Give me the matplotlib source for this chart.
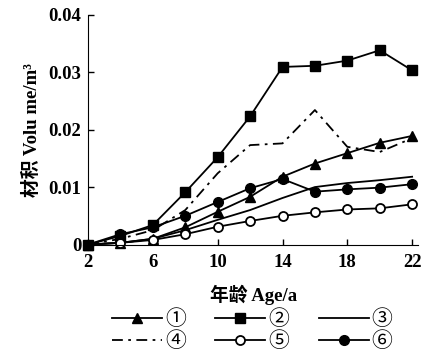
import matplotlib
matplotlib.use("Agg")
import matplotlib.pyplot as plt

plt.rcParams['font.family'] = ['Liberation Serif', 'Noto Sans CJK SC', 'DejaVu Sans']

ages = [2, 4, 6, 8, 10, 12, 14, 16, 18, 20, 22]
s1 = [0, 0.0003, 0.001, 0.003, 0.0057, 0.0083, 0.0118, 0.0141, 0.0159, 0.0177, 0.0189]
s2 = [0, 0.0015, 0.0034, 0.0091, 0.0152, 0.0223, 0.0309, 0.0311, 0.0320, 0.0338, 0.0303]
s3 = [0, 0.0003, 0.001, 0.0025, 0.0043, 0.006, 0.0081, 0.0100, 0.0107, 0.0112, 0.0118]
s4 = [0, 0.001, 0.0025, 0.006, 0.0124, 0.0173, 0.0176, 0.0234, 0.0170, 0.0161, 0.0185]
s5 = [0, 0.0003, 0.0008, 0.0018, 0.0031, 0.0041, 0.0050, 0.0056, 0.0061, 0.0063, 0.0070]
s6 = [0, 0.0018, 0.003, 0.005, 0.0074, 0.0098, 0.0114, 0.0092, 0.0096, 0.0099, 0.0105]
labels = ['①', '②', '③', '④', '⑤', '⑥']

fig = plt.figure(figsize=(4.36, 3.57), dpi=100)
ax = fig.add_axes([0.202, 0.315, 0.757, 0.644])

kw = dict(color='black', lw=1.3, clip_on=False)
l1, = ax.plot(ages, s1, marker='^', ms=7, label=labels[0], **kw)
l2, = ax.plot(ages, s2, marker='s', ms=7, label=labels[1], **kw)
l3, = ax.plot(ages, s3, label=labels[2], **kw)
l4, = ax.plot(ages, s4, ls=(0, (6, 3, 1.5, 3)), label=labels[3], **kw)
l5, = ax.plot(ages, s5, marker='o', ms=6.5, mfc='white', mew=1.3, label=labels[4], **kw)
l6, = ax.plot(ages, s6, marker='o', ms=7, label=labels[5], **kw)

ax.set_xlim(2, 22.37)
ax.set_ylim(0, 0.04)
ax.set_xticks([2, 6, 10, 14, 18, 22])
ax.set_yticks([0, 0.01, 0.02, 0.03, 0.04])
ax.set_yticklabels(['0', '0.01', '0.02', '0.03', '0.04'])
for t in ax.get_xticklabels() + ax.get_yticklabels():
    t.set_fontweight('bold')
ax.spines['top'].set_visible(False)
ax.spines['right'].set_visible(False)
ax.tick_params(direction='in', length=4, labelsize=13.5, width=1)
ax.tick_params(axis='x', pad=7)
ax.tick_params(axis='y', pad=5)
ax.set_xlabel('年龄 Age/a', fontsize=13.5, labelpad=10, fontweight='bold')
ax.set_ylabel('材积 Volu me/m³', fontsize=13.5, labelpad=5, fontweight='bold')

# legend is filled row by row in the reference
handles = [l1, l4, l2, l5, l3, l6]
fig.legend(handles, [h.get_label() for h in handles],
           loc='upper center', bbox_to_anchor=(0.579, 0.166), ncol=3,
           frameon=False, handlelength=2.4, columnspacing=1.4,
           handletextpad=0.15, labelspacing=0.0, borderpad=0,
           prop={'family': ['Noto Sans CJK SC', 'DejaVu Sans'], 'size': 15})

plt.savefig('out.png', dpi=100)
